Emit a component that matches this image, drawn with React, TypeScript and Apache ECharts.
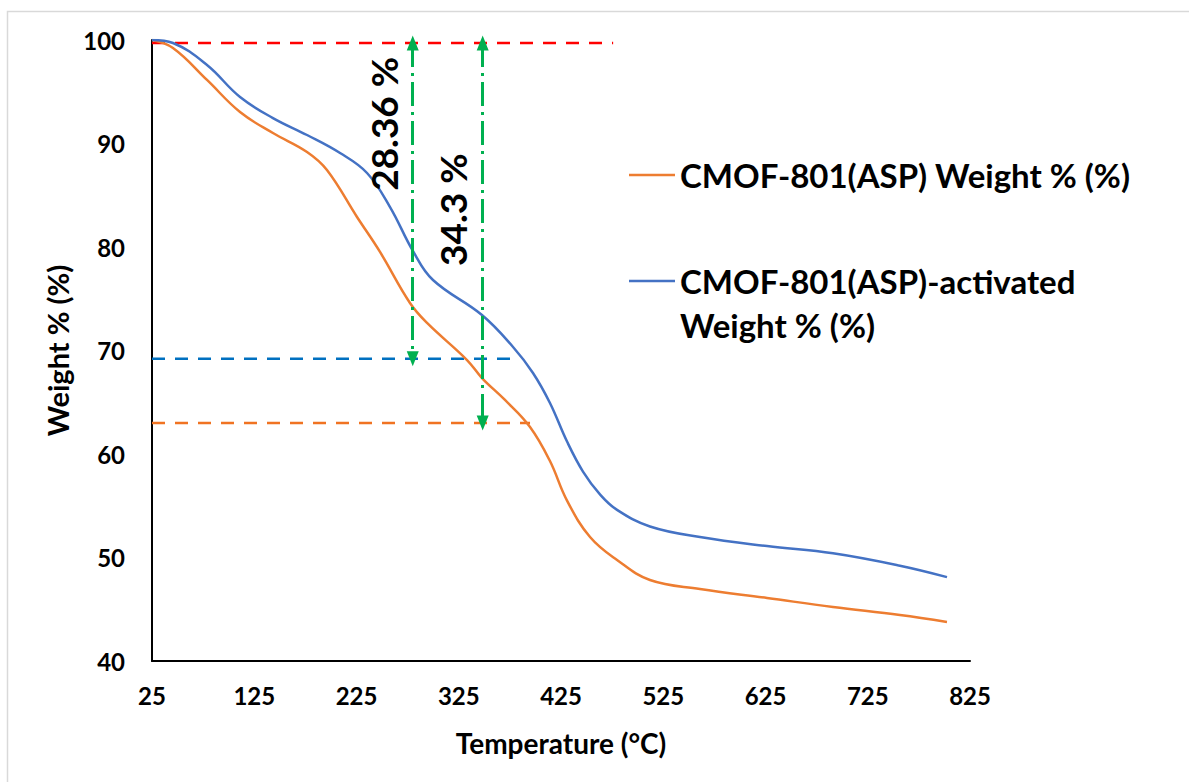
import React, { useEffect, useRef } from "react";
import * as echarts from "echarts";

// CMOF-801(ASP) curve (temperature °C, weight %)
const aspTemp = [25, 45.5, 78.8, 111.1, 143.3, 176.6, 196.1, 225.5, 248, 277.3, 294, 333.1, 347.7, 370.2, 394.7, 414.2, 430.9, 453.4, 479.8, 512, 560.9, 626.5, 691, 756.5, 802.5];
const aspWeight = [100, 99.23, 96.14, 93.04, 91.01, 89.18, 87.44, 82.9, 79.52, 74.59, 72.66, 69.08, 67.34, 65.22, 62.61, 59.32, 55.5, 51.98, 49.76, 47.83, 46.96, 46.09, 45.22, 44.44, 43.77];

// CMOF-801(ASP)-activated curve
const actTemp = [25, 45.5, 78.8, 111.1, 143.3, 176.6, 208.9, 235.3, 257.8, 280.3, 299.8, 347.7, 378.1, 397.6, 414.2, 430.9, 446.5, 463.1, 479.8, 512, 560.9, 626.5, 691, 756.5, 802.5];
const actWeight = [100, 99.71, 97.58, 94.49, 92.46, 90.82, 89.08, 87.15, 83.86, 79.6, 76.81, 73.43, 70.34, 67.83, 64.93, 61.2, 58.3, 56.1, 54.6, 53.0, 51.98, 51.1, 50.4, 49.2, 48.1];

const seriesNames = ["CMOF-801(ASP) Weight % (%)", "CMOF-801(ASP)-activated Weight % (%)"];
const legendLines = ["CMOF-801(ASP) Weight % (%)", "CMOF-801(ASP)-activated\nWeight % (%)"];

// dashed reference levels: [startTemp, endTemp, weight]
const refRed = [25, 476, 99.7];
const refBlue = [25, 378, 69.2];
const refOrange = [25, 394.7, 63.0];

// weight-loss arrows: [temp, fromWeight, toWeight]
const arrowA = [280, 99.7, 69.2];
const arrowB = [348.4, 99.7, 63.0];
const lossLabels = ["28.36 %", "34.3 %"];
const lossLabelPos = [[251, 91.9], [318.4, 83.6]];

const xTicks = { min: 25, max: 825, interval: 100 };
const yTicks = { min: 40, max: 100, interval: 10 };

const FONT = "Lato, 'Open Sans', sans-serif";
const ORANGE = "#ED7D31";
const BLUE = "#4472C4";
const GREEN = "#00B050";

export default function App() {
  const ref = useRef<HTMLDivElement>(null);
  useEffect(() => {
    document.body.style.margin = "0";
    const chart = echarts.init(ref.current!, null, { renderer: "svg" });
    const zip = (xs: number[], ys: number[]) => xs.map((x, i) => [x, ys[i]]);
    const refSeries = (r: number[], color: string) => ({
      type: "line",
      data: [[r[0], r[2]], [r[1], r[2]]],
      showSymbol: false,
      silent: true,
      lineStyle: { color, width: 2.5, type: [13, 10] },
      z: 1,
    });
    const arrowLine = (a: number[]) => [
      { coord: [a[0], a[1]] },
      { coord: [a[0], a[2]] },
    ];
    chart.setOption({
      animation: false,
      textStyle: { fontFamily: FONT },
      grid: { left: 152, right: 219, top: 40, bottom: 121, outerBoundsMode: "none" },
      xAxis: {
        type: "value",
        ...xTicks,
        name: "Temperature (°C)",
        nameLocation: "middle",
        nameGap: 68,
        nameTextStyle: { fontSize: 28, fontWeight: "bold", color: "#000", fontFamily: FONT },
        axisLine: { show: true, lineStyle: { color: "#000", width: 2 } },
        axisTick: { show: false },
        splitLine: { show: false },
        axisLabel: { fontSize: 24, fontWeight: "bold", color: "#000", margin: 22, fontFamily: FONT },
      },
      yAxis: {
        type: "value",
        ...yTicks,
        name: "Weight % (%)",
        nameLocation: "middle",
        nameRotate: 90,
        nameGap: 78,
        nameTextStyle: { fontSize: 29, fontWeight: "bold", color: "#000", fontFamily: FONT },
        axisLine: { show: true, lineStyle: { color: "#000", width: 2 } },
        axisTick: { show: false },
        splitLine: { show: false },
        axisLabel: { fontSize: 24, fontWeight: "bold", color: "#000", margin: 27, fontFamily: FONT },
      },
      series: [
        refSeries(refRed, "#FF0000"),
        refSeries(refBlue, "#0070C0"),
        refSeries(refOrange, "#F07322"),
        {
          name: seriesNames[0],
          type: "line",
          data: zip(aspTemp, aspWeight),
          smooth: 0.4,
          showSymbol: false,
          lineStyle: { color: ORANGE, width: 2.5 },
          z: 3,
        },
        {
          name: seriesNames[1],
          type: "line",
          data: zip(actTemp, actWeight),
          smooth: 0.4,
          showSymbol: false,
          lineStyle: { color: BLUE, width: 2.5 },
          z: 3,
        },
        {
          type: "line",
          data: [],
          silent: true,
          markLine: {
            silent: true,
            symbol: ["triangle", "triangle"],
            symbolSize: [12, 15],
            label: { show: false },
            lineStyle: { color: GREEN, width: 3, type: [24, 6, 3, 6] },
            emphasis: { disabled: true },
            data: [arrowLine(arrowA), arrowLine(arrowB)],
          },
          z: 4,
        },
      ],
    });

    const texts = lossLabels.map((t, i) => {
      const p = chart.convertToPixel({ gridIndex: 0 }, lossLabelPos[i]) as number[];
      return {
        type: "text",
        x: p[0],
        y: p[1],
        rotation: Math.PI / 2,
        style: {
          text: t,
          font: `bold 37px ${FONT}`,
          fill: "#000",
          align: "center",
          verticalAlign: "middle",
        },
        z: 10,
      };
    });

    chart.setOption({
      graphic: [
        {
          type: "rect",
          shape: { x: 7.5, y: 11.5, width: 1300, height: 900 },
          style: { fill: "none", stroke: "#D9D9D9", lineWidth: 1.5 },
          silent: true,
        },
        ...texts,
        {
          type: "line",
          shape: { x1: 629, y1: 175, x2: 675, y2: 175 },
          style: { stroke: ORANGE, lineWidth: 2.5 },
        },
        {
          type: "text",
          x: 680,
          y: 175,
          style: { text: legendLines[0], font: `bold 33px ${FONT}`, fill: "#000", verticalAlign: "middle" },
        },
        {
          type: "line",
          shape: { x1: 629, y1: 281, x2: 675, y2: 281 },
          style: { stroke: BLUE, lineWidth: 2.5 },
        },
        {
          type: "text",
          x: 680,
          y: 259,
          style: {
            text: legendLines[1],
            font: `bold 33px ${FONT}`,
            lineHeight: 44,
            fill: "#000",
            verticalAlign: "top",
          },
        },
      ],
    });
    return () => chart.dispose();
  }, []);
  return <div ref={ref} style={{ width: 1189, height: 782 }} />;
}
